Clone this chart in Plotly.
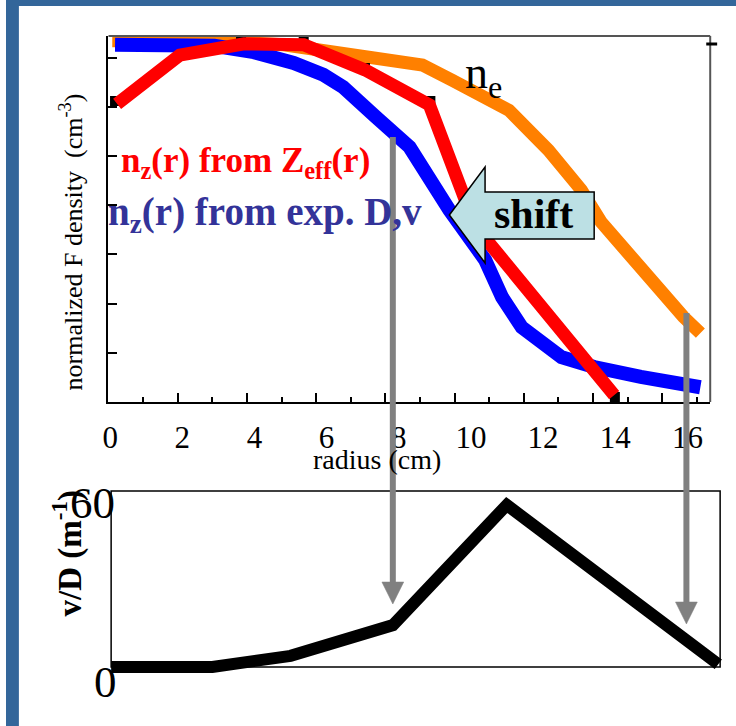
import plotly.graph_objects as go

W, H = 736, 726


def px(x):
    return x / W


def py(y):
    return 1 - y / H


# ---------------- data ----------------
# top panel: radius in tick units, density in tick units
ne_r = [0.11, 2.77, 5.06, 6.78, 7.93, 9.07, 9.93, 10.79, 11.57, 12.71, 13.66, 14.23, 15.18, 15.95, 16.61, 17.10]
ne_val = [7.34, 7.34, 7.26, 7.11, 7.01, 6.85, 6.54, 6.23, 5.93, 5.12, 4.31, 3.66, 2.89, 2.22, 1.73, 1.40]

nz_exp_r = [0.19, 3.06, 4.20, 5.35, 6.21, 6.78, 7.73, 8.70, 9.85, 10.88, 11.37, 11.94, 13.09, 14.03, 15.38, 16.32, 17.10]
nz_exp_val = [7.26, 7.24, 7.11, 6.89, 6.65, 6.40, 5.79, 5.18, 3.90, 2.89, 2.13, 1.52, 0.91, 0.71, 0.51, 0.41, 0.30]

nz_zeff_r = [0.25, 2.06, 3.92, 5.64, 7.41, 9.27, 10.59, 14.61]
nz_zeff_val = [6.06, 7.05, 7.28, 7.26, 6.75, 6.04, 3.58, 0.14]

mark_r = [0.19, 3.83, 5.64, 7.41, 9.30, 14.63]
mark_val = [6.12, 7.40, 7.38, 6.79, 6.12, 0.10]

radius_ticks = [0, 2, 4, 6, 8, 10, 12, 14, 16]
radius_minor = [1, 3, 5, 7, 9, 11, 13, 15, 17]
density_ticks = [0, 1, 2, 3, 4, 5, 6, 7]

# bottom panel: v/D profile
vd_r = [0.0, 2.81, 4.98, 7.82, 10.98, 16.85]
vd_val = [0, 0, 4, 15, 58, 1]
vd_labels = ["0", "60"]

SERIF = "Liberation Serif"

fig = go.Figure()

fig.add_trace(go.Scatter(x=ne_r, y=ne_val, mode="lines",
                         line=dict(color="#FF8000", width=13), xaxis="x", yaxis="y",
                         showlegend=False, hoverinfo="skip"))
fig.add_trace(go.Scatter(x=nz_exp_r, y=nz_exp_val, mode="lines",
                         line=dict(color="#0000FF", width=14), xaxis="x", yaxis="y",
                         showlegend=False, hoverinfo="skip"))
fig.add_trace(go.Scatter(x=mark_r, y=mark_val, mode="markers",
                         marker=dict(symbol="square", size=10, color="black"), xaxis="x", yaxis="y",
                         showlegend=False, hoverinfo="skip"))
fig.add_trace(go.Scatter(x=nz_zeff_r, y=nz_zeff_val, mode="lines",
                         line=dict(color="#FF0000", width=13), xaxis="x", yaxis="y",
                         showlegend=False, hoverinfo="skip"))
# empty trace so that the label axis exists
fig.add_trace(go.Scatter(x=[], y=[], xaxis="x3", yaxis="y", showlegend=False, hoverinfo="skip"))

fig.add_trace(go.Scatter(x=vd_r, y=vd_val, mode="lines",
                         line=dict(color="black", width=12), xaxis="x2", yaxis="y2",
                         showlegend=False, hoverinfo="skip"))

# ---------------- axes ----------------
x_left, x_right = 103.3, 710
fig.update_layout(
    width=W, height=H, margin=dict(l=0, r=0, t=0, b=0),
    paper_bgcolor="white", plot_bgcolor="rgba(0,0,0,0)",
    xaxis=dict(domain=[px(x_left), px(x_right)], range=[0, (x_right - x_left) / 34.9],
               anchor="y", showline=True, linecolor="black", linewidth=2,
               ticks="inside", tickvals=radius_ticks, ticklen=9, tickwidth=1.5, tickcolor="black",
               minor=dict(tickmode="array", tickvals=radius_minor, ticks="inside", ticklen=5,
                          tickwidth=1.5, tickcolor="black"),
               showticklabels=False, showgrid=False, zeroline=False),
    yaxis=dict(domain=[py(402), py(36)], range=[0, (402 - 36) / 49.2],
               anchor="x", showline=True, linecolor="black", linewidth=2,
               ticks="inside", tickvals=density_ticks, ticklen=9, tickwidth=1.5, tickcolor="black",
               showticklabels=False, showgrid=False, zeroline=False),
    xaxis3=dict(overlaying="x", anchor="y", side="bottom",
                range=[(x_left - 105) / 36.375, (x_right - 105) / 36.375],
                tickvals=radius_ticks, ticktext=[str(v) for v in radius_ticks],
                ticks="", showline=False, showgrid=False, zeroline=False,
                tickfont=dict(family=SERIF, size=31, color="black"), ticklabelstandoff=14),
    xaxis2=dict(domain=[px(100), px(728)], range=[(100 - 106) / 36.33, (728 - 106) / 36.33],
                anchor="y2", visible=False),
    yaxis2=dict(domain=[py(690), py(484)], range=[(667 - 690) / 2.794, (667 - 484) / 2.794],
                anchor="x2", visible=False),
)

# ---------------- shapes ----------------
shapes = []
# slide background strips
shapes.append(dict(type="rect", xref="paper", yref="paper", x0=0, x1=px(13), y0=0, y1=1,
                   fillcolor="#33669A", line=dict(width=0), layer="above"))
shapes.append(dict(type="rect", xref="paper", yref="paper", x0=0, x1=1, y0=py(6), y1=1,
                   fillcolor="#33669A", line=dict(width=0), layer="above"))
# top panel frame (top and right edges)
shapes.append(dict(type="line", xref="paper", yref="paper", x0=px(x_left), x1=px(x_right),
                   y0=py(36), y1=py(36), line=dict(color="#555555", width=2)))
shapes.append(dict(type="line", xref="paper", yref="paper", x0=px(x_right), x1=px(x_right),
                   y0=py(36), y1=py(402), line=dict(color="#555555", width=2)))
shapes.append(dict(type="line", xref="paper", yref="paper", x0=px(706), x1=px(717),
                   y0=py(44), y1=py(44), line=dict(color="black", width=3)))
# bottom panel frame
shapes.append(dict(type="rect", xref="paper", yref="paper", x0=px(106), x1=px(720),
                   y0=py(667), y1=py(491), line=dict(color="black", width=1.5), layer="below"))


def poly(points):
    return "M " + " L ".join(f"{px(a):.5f},{py(b):.5f}" for a, b in points) + " Z"


# shift callout
shapes.append(dict(type="path", xref="paper", yref="paper",
                   path=poly([(447, 215), (483, 167), (483, 192), (593, 192), (593, 239),
                              (483, 239), (483, 263)]),
                   fillcolor="#BCE0E4", line=dict(color="black", width=1.5)))
# gray arrows
GRAY = "#808080"
for xa, y0, y1 in [(390, 137, 585), (686, 313, 605)]:
    shapes.append(dict(type="line", xref="paper", yref="paper", x0=px(xa), x1=px(xa),
                       y0=py(y0), y1=py(y1), line=dict(color=GRAY, width=6)))
    shapes.append(dict(type="path", xref="paper", yref="paper",
                       path=poly([(xa - 11, y1 - 3), (xa + 11, y1 - 3), (xa, y1 + 19)]),
                       fillcolor=GRAY, line=dict(color=GRAY, width=0.5)))
fig.update_layout(shapes=shapes)

# ---------------- texts ----------------
ann = []
ann.append(dict(text="normalized F density\u00a0\u00a0(cm<sup>-3</sup>)", textangle=-90,
                x=px(67), y=py(242), xref="paper", yref="paper", showarrow=False,
                xanchor="center", yanchor="middle", font=dict(family=SERIF, size=26, color="black")))
ann.append(dict(text="radius (cm)", x=px(374), y=py(459), xref="paper", yref="paper",
                showarrow=False, xanchor="center", yanchor="middle",
                font=dict(family=SERIF, size=28, color="black")))
ann.append(dict(text="<b>n<sub>z</sub>(r) from Z<sub>eff</sub>(r)</b>", x=px(114), y=py(162),
                xref="paper", yref="paper", showarrow=False, xanchor="left", yanchor="middle",
                font=dict(family=SERIF, size=35, color="#FF0000")))
ann.append(dict(text="<b>n<sub>z</sub>(r) from exp. D,v</b>", x=px(101), y=py(215),
                xref="paper", yref="paper", showarrow=False, xanchor="left", yanchor="middle",
                font=dict(family=SERIF, size=39, color="#333399")))
ann.append(dict(text="n<sub>e</sub>", x=px(461), y=py(76), xref="paper", yref="paper",
                showarrow=False, xanchor="left", yanchor="middle",
                font=dict(family=SERIF, size=46, color="black")))
ann.append(dict(text="<b>shift</b>", x=px(532), y=py(214), xref="paper", yref="paper",
                showarrow=False, xanchor="center", yanchor="middle",
                font=dict(family=SERIF, size=42, color="black")))
ann.append(dict(text="<b>v/D (m<sup>-1</sup>)</b>", textangle=-90, x=px(62), y=py(553),
                xref="paper", yref="paper", showarrow=False, xanchor="center", yanchor="middle",
                font=dict(family=SERIF, size=33, color="black")))
ann.append(dict(text=vd_labels[1], x=px(112), y=py(503), xref="paper", yref="paper",
                showarrow=False, xanchor="right", yanchor="middle",
                font=dict(family=SERIF, size=45, color="black")))
ann.append(dict(text=vd_labels[0], x=px(100), y=py(682), xref="paper", yref="paper",
                showarrow=False, xanchor="center", yanchor="middle",
                font=dict(family=SERIF, size=45, color="black")))
fig.update_layout(annotations=ann)

fig.write_html("out.html")
